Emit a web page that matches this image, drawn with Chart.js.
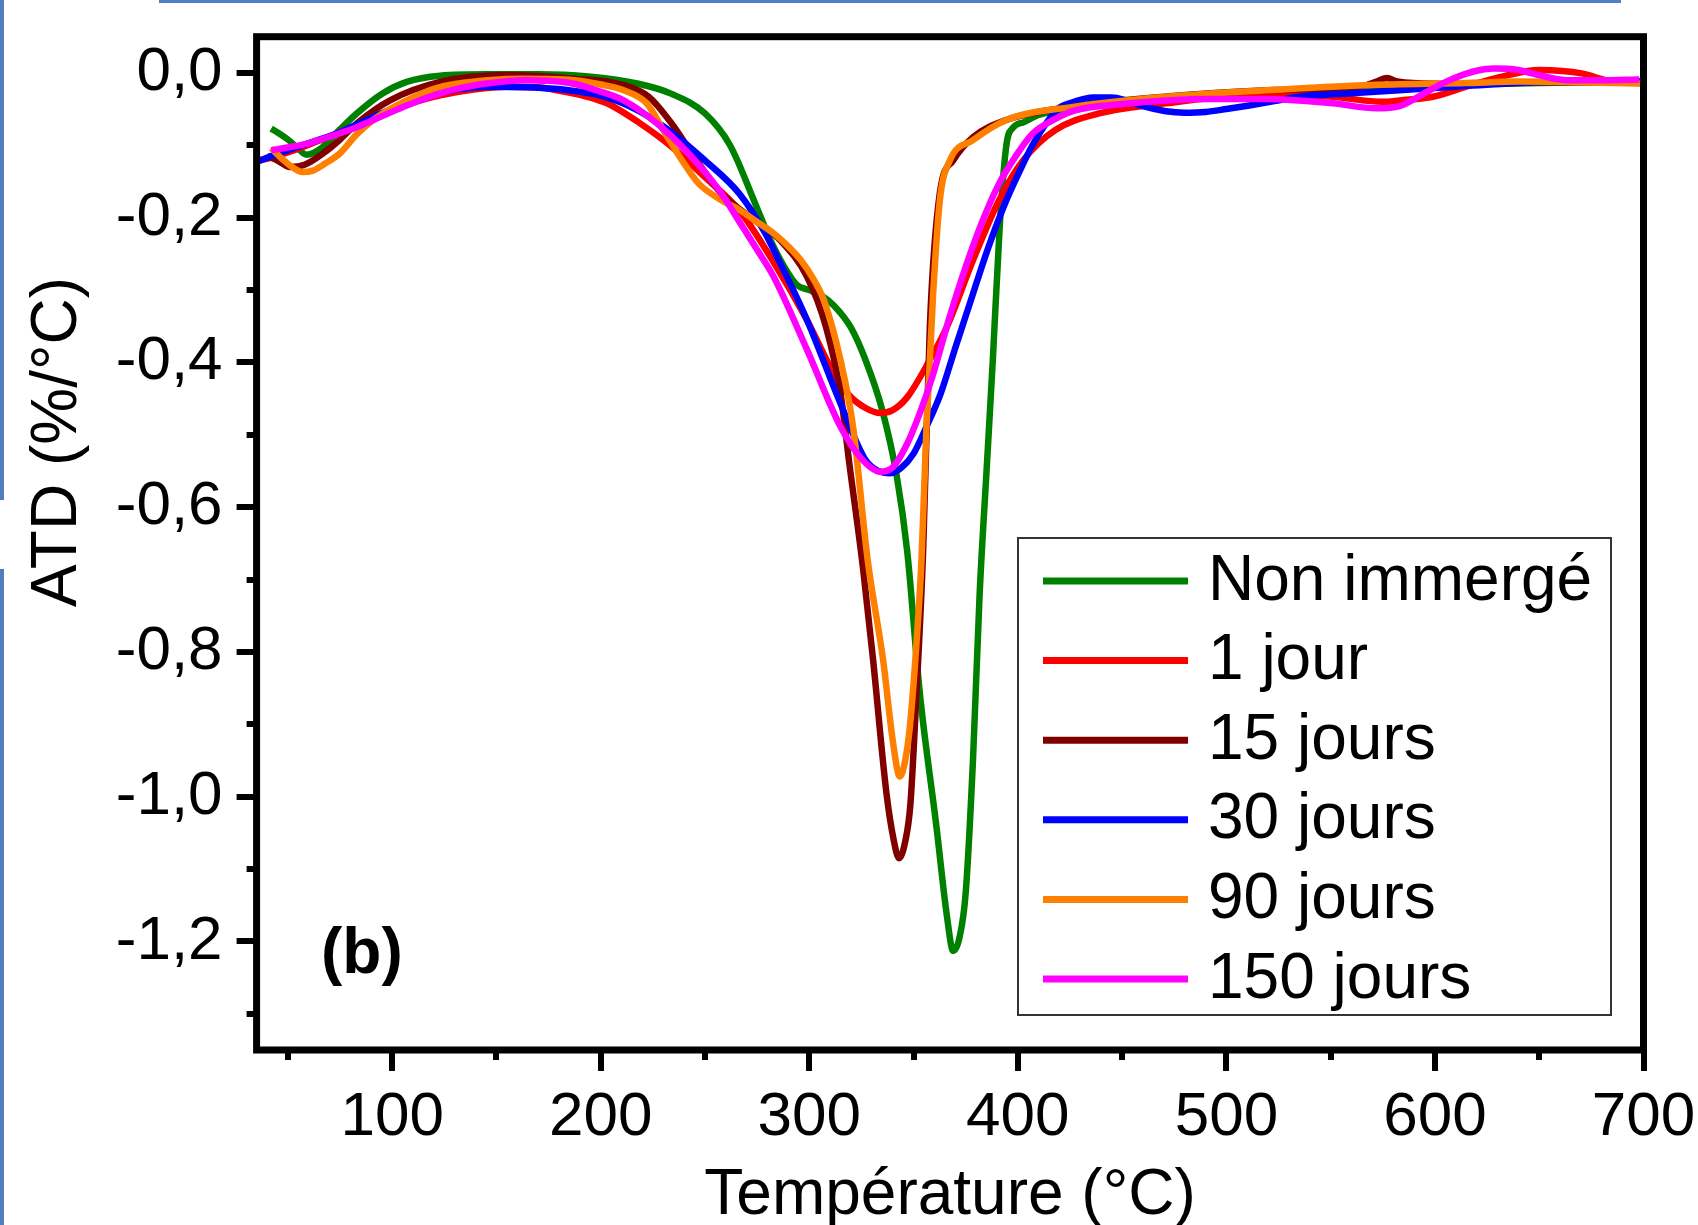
<!DOCTYPE html>
<html>
<head>
<meta charset="utf-8">
<script src="https://cdn.jsdelivr.net/npm/chart.js@4.4.1/dist/chart.umd.min.js"></script>
<style>
  html, body { margin: 0; padding: 0; background: #fff; overflow: hidden; }
  #wrap { position: relative; width: 1698px; height: 1225px; }
  canvas { display: block; }
  .deco { position: absolute; background: #4f7fbf; }
</style>
</head>
<body>
<div id="wrap">
  <canvas id="c" width="1698" height="1225"></canvas>
  <div class="deco" style="left:159px; top:0; width:1462px; height:3px;"></div>
  <div class="deco" style="left:0; top:0; width:4px; height:500px;"></div>
  <div class="deco" style="left:0; top:569px; width:4px; height:656px;"></div>
</div>
<script>
// ---------------- data ----------------
const seriesLabels = ['Non immergé', '1 jour', '15 jours', '30 jours', '90 jours', '150 jours'];
const seriesColors = ['#008000', '#ff0000', '#800000', '#0000ff', '#ff8000', '#ff00ff'];

const tGreen = [42, 46, 50, 54, 59, 66, 75, 83, 95, 107, 123, 146, 170, 194, 218, 234, 250, 262, 274, 282, 288, 294, 300, 306, 312, 320, 327, 335, 342, 347, 353, 361, 366, 369, 372, 375, 378.5, 381.7, 385, 388, 391.3, 394.5, 397.6, 403, 410, 430, 450, 500, 550, 600, 650, 700];
const vGreen = [-0.077, -0.084, -0.092, -0.102, -0.113, -0.104, -0.078, -0.056, -0.029, -0.0125, -0.004, -0.002, -0.002, -0.005, -0.015, -0.029, -0.056, -0.100, -0.180, -0.235, -0.268, -0.293, -0.300, -0.308, -0.322, -0.352, -0.397, -0.466, -0.558, -0.662, -0.857, -1.042, -1.165, -1.213, -1.195, -1.133, -0.949, -0.719, -0.550, -0.397, -0.213, -0.100, -0.076, -0.068, -0.058, -0.048, -0.040, -0.028, -0.022, -0.017, -0.014, -0.012];

const tRed = [36, 42, 51, 62, 75, 87, 99, 111, 123, 139, 155, 170, 179, 191, 203, 218, 234, 250, 267, 283, 299, 311, 319, 327, 334, 340, 347, 356, 366, 378.5, 391, 402.5, 418, 439, 471, 519, 551, 575, 583, 599, 615, 631, 650, 671, 682, 698];
const vRed = [-0.121, -0.117, -0.109, -0.097, -0.082, -0.067, -0.052, -0.040, -0.031, -0.023, -0.019, -0.020, -0.024, -0.031, -0.042, -0.068, -0.102, -0.144, -0.192, -0.262, -0.342, -0.411, -0.445, -0.463, -0.470, -0.466, -0.448, -0.406, -0.351, -0.259, -0.176, -0.121, -0.079, -0.056, -0.042, -0.029, -0.033, -0.040, -0.038, -0.033, -0.019, -0.006, 0.004, -0.001, -0.010, -0.0125];

const tDark = [40, 45, 51, 58, 67, 75, 83, 99, 123, 155, 187, 211, 223, 234, 246, 258, 274, 286, 299, 308, 315, 319, 325.8, 330.6, 337, 340.5, 343, 346, 348.5, 351.4, 354.6, 357.8, 362.6, 369, 378.5, 394.5, 425, 470, 520, 565, 572, 577, 582, 600, 640, 700];
const vDark = [-0.115, -0.121, -0.130, -0.127, -0.111, -0.092, -0.070, -0.038, -0.0125, -0.003, -0.008, -0.017, -0.033, -0.070, -0.121, -0.167, -0.204, -0.231, -0.282, -0.351, -0.443, -0.535, -0.685, -0.811, -0.995, -1.060, -1.085, -1.062, -1.010, -0.857, -0.660, -0.351, -0.166, -0.121, -0.089, -0.065, -0.047, -0.033, -0.024, -0.018, -0.012, -0.007, -0.012, -0.015, -0.013, -0.013];

const tBlue = [35, 43, 59, 75, 91, 115, 146, 178, 202, 218, 234, 250, 266.5, 279, 283, 299, 315, 327, 333, 339, 344, 350, 356, 363, 370, 378.5, 386, 394.5, 401, 407, 414, 420, 427, 436, 445, 452, 460, 471, 480, 490, 500, 511, 523, 535, 560, 583, 610, 640, 670, 700];
const vBlue = [-0.123, -0.114, -0.098, -0.082, -0.061, -0.033, -0.019, -0.022, -0.033, -0.052, -0.082, -0.121, -0.167, -0.222, -0.245, -0.342, -0.457, -0.535, -0.550, -0.553, -0.546, -0.526, -0.490, -0.443, -0.380, -0.305, -0.240, -0.176, -0.135, -0.100, -0.068, -0.048, -0.040, -0.034, -0.034, -0.038, -0.046, -0.053, -0.055, -0.054, -0.050, -0.045, -0.039, -0.033, -0.028, -0.024, -0.019, -0.014, -0.012, -0.012];

const tOrange = [42, 47, 52, 57, 62, 68, 75, 83, 91, 99, 107, 120, 131, 146, 163, 187, 200, 211, 222, 231, 239, 247, 258, 267, 274, 283, 290, 296, 302, 307, 315, 321, 328, 335.4, 340.2, 343.4, 346, 348.2, 351.4, 353.8, 356.2, 359.4, 362.6, 367.4, 378.5, 394.5, 426.5, 471, 519, 567, 615, 640, 700];
const vOrange = [-0.104, -0.118, -0.130, -0.137, -0.135, -0.125, -0.111, -0.085, -0.065, -0.050, -0.038, -0.022, -0.015, -0.010, -0.008, -0.010, -0.016, -0.024, -0.042, -0.084, -0.121, -0.153, -0.176, -0.190, -0.204, -0.222, -0.240, -0.259, -0.285, -0.314, -0.397, -0.489, -0.673, -0.811, -0.926, -0.972, -0.950, -0.904, -0.788, -0.673, -0.489, -0.305, -0.176, -0.121, -0.093, -0.065, -0.047, -0.033, -0.024, -0.017, -0.014, -0.012, -0.015];

const tMag = [42, 50, 59, 70, 83, 95, 107, 119, 131, 147, 163, 175, 187, 199, 211, 227, 242, 258, 267, 274, 283, 299, 315, 325, 334, 340, 347, 353, 359, 367, 375, 383, 391, 399, 407, 417, 427, 450, 471, 495, 519, 551, 572, 583, 592, 600, 607, 613, 620, 628, 640, 647, 663, 680, 698];
const vMag = [-0.107, -0.103, -0.098, -0.088, -0.075, -0.060, -0.045, -0.032, -0.022, -0.014, -0.010, -0.011, -0.015, -0.025, -0.038, -0.070, -0.111, -0.167, -0.208, -0.240, -0.282, -0.383, -0.489, -0.533, -0.551, -0.545, -0.512, -0.470, -0.420, -0.340, -0.268, -0.205, -0.153, -0.115, -0.084, -0.065, -0.052, -0.043, -0.038, -0.036, -0.036, -0.042, -0.049, -0.046, -0.033, -0.020, -0.010, -0.003, 0.003, 0.006, 0.004, -0.001, -0.010, -0.010, -0.009];

const xMajorTicks = [100, 200, 300, 400, 500, 600, 700];
const xMinorTicks = [50, 150, 250, 350, 450, 550, 650];
const yMajorTicks = [0, -0.2, -0.4, -0.6, -0.8, -1.0, -1.2];
const yMinorTicks = [-0.1, -0.3, -0.5, -0.7, -0.9, -1.1, -1.3];

const xTitle = 'Température (°C)';
const yTitle = 'ATD (%/°C)';
const panelLabel = '(b)';

// ---------------- chart ----------------
const FONT = "'Liberation Sans', Arial, Helvetica, sans-serif";
Chart.defaults.font.family = FONT;
Chart.defaults.color = '#000';

const xs = [tGreen, tRed, tDark, tBlue, tOrange, tMag];
const vs = [vGreen, vRed, vDark, vBlue, vOrange, vMag];

const datasets = seriesLabels.map((lab, i) => ({
  label: lab,
  data: xs[i].map((t, j) => ({ x: t, y: vs[i][j] })),
  borderColor: seriesColors[i],
  backgroundColor: seriesColors[i],
  borderWidth: 6.5,
  pointRadius: 0,
  fill: false,
  cubicInterpolationMode: 'monotone',
  order: seriesLabels.length - i
}));

const X_MIN = 35, X_MAX = 700, Y_MIN = -1.35, Y_MAX = 0.05;
const fmtY = v => (Math.abs(v) < 1e-9 ? '0,0' : v.toFixed(1).replace('.', ','));

const overlay = {
  id: 'overlay',
  afterDraw(chart) {
    const ctx = chart.ctx;
    const a = chart.chartArea;
    ctx.save();
    // frame
    ctx.lineWidth = 7;
    ctx.strokeStyle = '#000';
    ctx.lineJoin = 'miter';
    ctx.strokeRect(a.left, a.top, a.right - a.left, a.bottom - a.top);

    // y title
    ctx.save();
    ctx.translate(58, 442);
    ctx.rotate(-Math.PI / 2);
    ctx.fillStyle = '#000';
    ctx.font = '64px ' + FONT;
    ctx.textAlign = 'center';
    ctx.textBaseline = 'middle';
    ctx.fillText(yTitle, 0, 0);
    ctx.restore();

    // panel label
    ctx.fillStyle = '#000';
    ctx.font = 'bold 64px ' + FONT;
    ctx.textAlign = 'left';
    ctx.textBaseline = 'alphabetic';
    ctx.fillText(panelLabel, 321, 973);

    // legend
    const bx = 1018, by = 538, bw = 593, bh = 477;
    ctx.fillStyle = '#fff';
    ctx.fillRect(bx, by, bw, bh);
    ctx.lineWidth = 2;
    ctx.strokeStyle = '#333';
    ctx.strokeRect(bx, by, bw, bh);
    ctx.font = '64px ' + FONT;
    ctx.textBaseline = 'middle';
    chart.data.datasets.forEach((ds, i) => {
      const y = 581 + i * 79.6;
      ctx.strokeStyle = ds.borderColor;
      ctx.lineWidth = 7;
      ctx.lineCap = 'butt';
      ctx.beginPath();
      ctx.moveTo(1043, y);
      ctx.lineTo(1188, y);
      ctx.stroke();
      ctx.fillStyle = '#000';
      ctx.fillText(ds.label, 1208, y + 1);
    });
    ctx.restore();
  }
};

const setTicks = arr => scale => { scale.ticks = arr.map(v => ({ value: v })); };
const noPad = s => { s.paddingTop = 0; s.paddingBottom = 0; s.paddingLeft = 0; s.paddingRight = 0; };

new Chart(document.getElementById('c'), {
  type: 'line',
  data: { datasets },
  options: {
    responsive: false,
    animation: false,
    devicePixelRatio: 1,
    layout: { padding: { left: 0, top: 36.7, right: 54.5, bottom: 0 } },
    plugins: { legend: { display: false }, tooltip: { enabled: false } },
    scales: {
      x: {
        type: 'linear', position: 'bottom', min: X_MIN, max: X_MAX, weight: 1,
        afterBuildTicks: setTicks(xMajorTicks),
        afterFit: s => { s.height = 1225 - 1050; noPad(s); },
        grid: { display: true, drawOnChartArea: false, drawTicks: true, tickLength: 21, lineWidth: 6, tickWidth: 6, color: '#000', tickColor: '#000' },
        border: { display: false },
        ticks: { autoSkip: false, maxRotation: 0, minRotation: 0, padding: 10, color: '#000', font: { size: 62, family: FONT }, callback: v => String(v) },
        title: { display: true, text: xTitle, color: '#000', font: { size: 64, family: FONT, lineHeight: 0.9 }, padding: { top: 0, bottom: 0 } }
      },
      xMinor: {
        type: 'linear', position: 'bottom', min: X_MIN, max: X_MAX, weight: 0,
        afterBuildTicks: setTicks(xMinorTicks),
        afterFit: s => { s.height = 0; noPad(s); },
        grid: { display: true, drawOnChartArea: false, drawTicks: true, tickLength: 10, lineWidth: 6, tickWidth: 6, color: '#000', tickColor: '#000' },
        border: { display: false },
        ticks: { display: false }
      },
      xTop: {
        type: 'linear', position: 'top', min: X_MIN, max: X_MAX,
        afterFit: s => { s.height = 0; noPad(s); },
        grid: { display: false }, border: { display: false }, ticks: { display: false }
      },
      y: {
        type: 'linear', position: 'left', min: Y_MIN, max: Y_MAX, weight: 1,
        afterBuildTicks: setTicks(yMajorTicks),
        afterFit: s => { s.width = 256.6; noPad(s); },
        grid: { display: true, drawOnChartArea: false, drawTicks: true, tickLength: 20, lineWidth: 6, tickWidth: 6, color: '#000', tickColor: '#000' },
        border: { display: false },
        ticks: { autoSkip: false, padding: 14, color: '#000', font: { size: 62, family: FONT }, callback: v => fmtY(v) },
        title: { display: false }
      },
      yMinor: {
        type: 'linear', position: 'left', min: Y_MIN, max: Y_MAX, weight: 0,
        afterBuildTicks: setTicks(yMinorTicks),
        afterFit: s => { s.width = 0; noPad(s); },
        grid: { display: true, drawOnChartArea: false, drawTicks: true, tickLength: 10, lineWidth: 6, tickWidth: 6, color: '#000', tickColor: '#000' },
        border: { display: false },
        ticks: { display: false }
      },
      yRight: {
        type: 'linear', position: 'right', min: Y_MIN, max: Y_MAX,
        afterFit: s => { s.width = 0; noPad(s); },
        grid: { display: false }, border: { display: false }, ticks: { display: false }
      }
    }
  },
  plugins: [overlay]
});
</script>
</body>
</html>
